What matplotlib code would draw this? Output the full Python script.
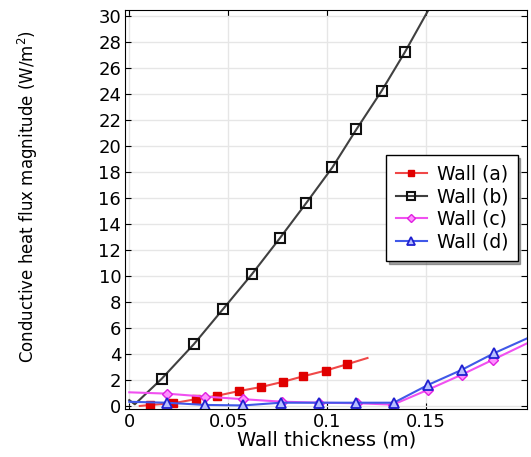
import matplotlib
matplotlib.use("Agg")
import matplotlib.pyplot as plt
import numpy as np

# Данные (толщина стенки, м -> тепловой поток, W/m^2)
wall_a_x = [0.0053, 0.0107, 0.0221, 0.0336, 0.0445, 0.0555, 0.0666, 0.0774, 0.0878, 0.0991, 0.110, 0.1203]
wall_a_y = [0.0, 0.08, 0.21, 0.52, 0.79, 1.15, 1.46, 1.85, 2.28, 2.72, 3.21, 3.69]
wall_a_marks = list(range(1, 11))

wall_b_x = [0.0, 0.0028, 0.0163, 0.0326, 0.0474, 0.0620, 0.0760, 0.0895, 0.1026, 0.1147, 0.1274, 0.1391, 0.1545]
wall_b_y = [0.45, 0.13, 2.08, 4.75, 7.46, 10.15, 12.9, 15.64, 18.36, 21.28, 24.23, 27.2, 31.4]
wall_b_marks = list(range(2, 12))

wall_c_x = [0.0, 0.0188, 0.0381, 0.0575, 0.0769, 0.0959, 0.1151, 0.1332, 0.1509, 0.1678, 0.1837, 0.2009]
wall_c_y = [1.05, 0.95, 0.72, 0.52, 0.33, 0.25, 0.21, 0.1, 1.25, 2.4, 3.56, 4.82]
wall_c_marks = list(range(1, 11))

wall_d_x = [0.0, 0.0188, 0.0381, 0.0575, 0.0765, 0.0957, 0.1147, 0.1336, 0.1509, 0.1678, 0.1841, 0.2009]
wall_d_y = [0.32, 0.25, 0.08, 0.04, 0.25, 0.25, 0.25, 0.25, 1.62, 2.77, 4.05, 5.2]
wall_d_marks = list(range(1, 11))

x_ticks = [0, 0.05, 0.1, 0.15]
x_tick_labels = ['0', '0.05', '0.1', '0.15']
y_ticks = list(range(0, 31, 2))


def plot_heat_flux(output_file):
    """График теплового потока в зависимости от толщины стенки"""
    fig = plt.figure(figsize=(5.31, 4.57), dpi=100)
    ax = fig.add_axes([0.236, 0.106, 0.757, 0.872])

    ax.plot(wall_a_x, wall_a_y, color='#f04848', linewidth=1.5, marker='s', markersize=5.5,
            markerfacecolor='#e00000', markeredgecolor='#e00000', markevery=wall_a_marks,
            label='Wall (a)')
    ax.plot(wall_b_x, wall_b_y, color='#404040', linewidth=1.5, marker='s', markersize=7.5,
            markerfacecolor='none', markeredgecolor='#111111', markeredgewidth=1.5,
            markevery=wall_b_marks, label='Wall (b)')
    ax.plot(wall_c_x, wall_c_y, color='#f050f0', linewidth=1.5, marker='D', markersize=5.5,
            markerfacecolor='#ff90ff', markeredgecolor='#e020e0', markevery=wall_c_marks,
            label='Wall (c)')
    ax.plot(wall_d_x, wall_d_y, color='#4058e8', linewidth=1.5, marker='^', markersize=7.5,
            markerfacecolor='#b8c0ff', markeredgecolor='#2020d0', markeredgewidth=1.3,
            markevery=wall_d_marks, label='Wall (d)')

    ax.set_xlim(-0.002, 0.201)
    ax.set_ylim(-0.2, 30.46)
    ax.set_xticks(x_ticks)
    ax.set_xticklabels(x_tick_labels)
    ax.set_yticks(y_ticks)
    ax.tick_params(direction='in', top=True, right=True, labelsize=13, length=4, pad=3)
    ax.grid(True, color='#e6e6e6', linewidth=1)
    ax.set_axisbelow(True)

    ax.set_xlabel('Wall thickness (m)', fontsize=14, labelpad=0)
    ax.set_ylabel('Conductive heat flux magnitude (W/m$^2$)', fontsize=12)
    ax.yaxis.set_label_coords(-0.212, 0.531)

    leg = ax.legend(loc='upper right', bbox_to_anchor=(0.976, 0.636), fontsize=13.5,
                    fancybox=False, shadow=True, framealpha=1, edgecolor='black',
                    handlelength=1.7, handletextpad=0.5, borderpad=0.5, labelspacing=0.2,
                    borderaxespad=0, markerscale=0.75)
    leg.get_frame().set_linewidth(1.0)

    fig.savefig(output_file, dpi=100)


if __name__ == "__main__":
    plot_heat_flux("out.png")
